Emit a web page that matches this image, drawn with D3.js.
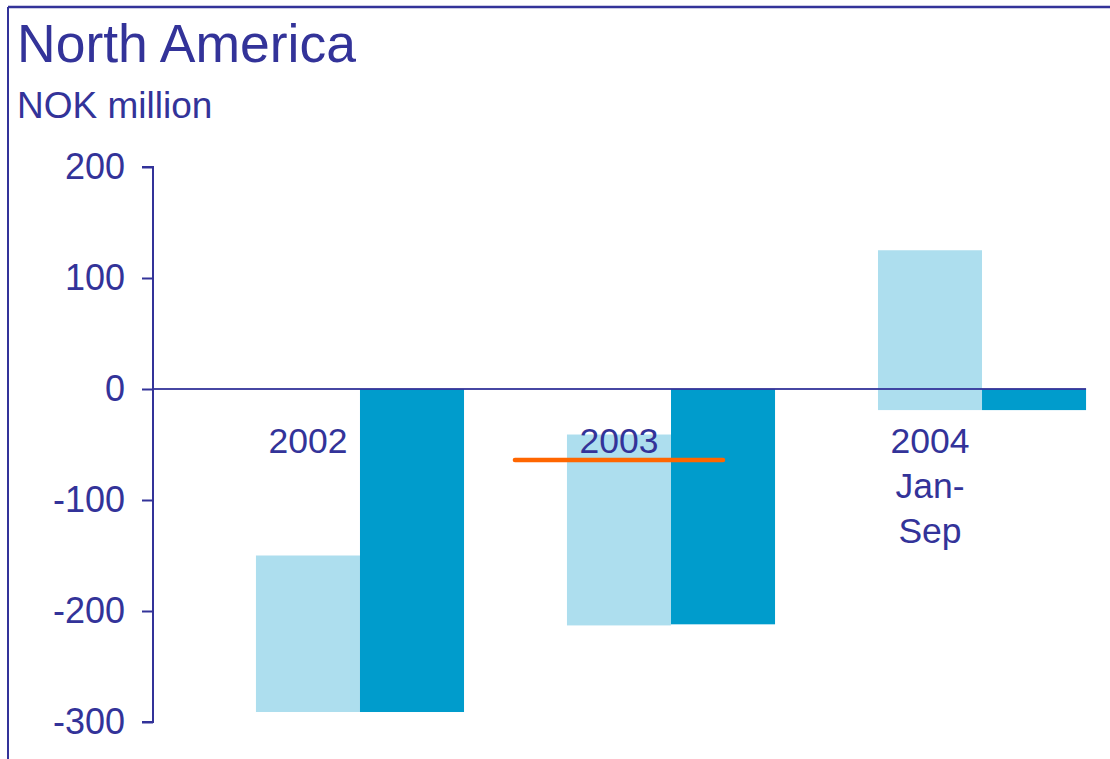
<!DOCTYPE html>
<html>
<head>
<meta charset="utf-8">
<script src="https://cdn.jsdelivr.net/npm/d3@7"></script>
<style>
  html, body { margin: 0; padding: 0; background: #fff; }
  svg { display: block; font-family: "Liberation Sans", Arial, sans-serif; }
</style>
</head>
<body>
<svg id="chart" width="1110" height="759"></svg>
<script>
// Categories and values (NOK million)
const categories = ["2002", "2003", "2004"];
const categoryLabels = [["2002"], ["2003"], ["2004", "Jan-", "Sep"]];
// Light bars float between a start and an end value
const lightStart = [-150, -41, 125];
const lightEnd = [-291, -213, -19];
// Dark bars run from zero
const darkValues = [-291, -212, -19];
// Reference level marked for 2003
const markerCategory = "2003";
const markerValue = -64;
const yTicks = [200, 100, 0, -100, -200, -300];

const ink = "#333399";
const lightColor = "#addeee";
const darkColor = "#009ccc";
const markerColor = "#ff6600";

const svg = d3.select("#chart");

// Frame lines at top and left
svg.append("line").attr("x1", 8).attr("x2", 1110).attr("y1", 7).attr("y2", 7)
  .attr("stroke", ink).attr("stroke-width", 2.5);
svg.append("line").attr("x1", 8).attr("x2", 8).attr("y1", 7).attr("y2", 759)
  .attr("stroke", ink).attr("stroke-width", 2);

// Titles
svg.append("text").attr("x", 17).attr("y", 62)
  .attr("fill", ink).attr("font-size", 53.5).text("North America");
svg.append("text").attr("x", 17).attr("y", 118)
  .attr("fill", ink).attr("font-size", 37).text("NOK million");

// Scales
const y = d3.scaleLinear().domain([-300, 200]).range([722, 167]);
const x = d3.scaleBand().domain(categories).range([153, 1189])
  .paddingInner(0.331).paddingOuter(0.331);
const half = x.bandwidth() / 2;

// Y axis (plain hyphen for negatives)
const yAxis = d3.axisLeft(y).tickValues(yTicks).tickSize(11).tickPadding(17)
  .tickFormat(d => String(d));
const gy = svg.append("g").attr("transform", "translate(153,0)").call(yAxis);
gy.select(".domain").attr("stroke", ink).attr("stroke-width", 2).attr("d", `M-11,${y(200)}H0V${y(-300)}H-11`);
gy.selectAll(".tick line").attr("stroke", ink).attr("stroke-width", 2);
gy.selectAll(".tick text").attr("fill", ink).attr("font-size", 36)
  .attr("font-family", "Liberation Sans, Arial, sans-serif");

// Light floating bars
svg.append("g").selectAll("rect").data(categories).join("rect")
  .attr("x", d => x(d))
  .attr("width", half)
  .attr("y", (d, i) => y(Math.max(lightStart[i], lightEnd[i])))
  .attr("height", (d, i) => Math.abs(y(lightStart[i]) - y(lightEnd[i])))
  .attr("fill", lightColor);

// Dark bars from zero
svg.append("g").selectAll("rect").data(categories).join("rect")
  .attr("x", d => x(d) + half)
  .attr("width", half)
  .attr("y", (d, i) => y(Math.max(0, darkValues[i])))
  .attr("height", (d, i) => Math.abs(y(darkValues[i]) - y(0)))
  .attr("fill", darkColor);

// Zero line
svg.append("line")
  .attr("x1", 153).attr("x2", x(categories[categories.length - 1]) + x.bandwidth())
  .attr("y1", y(0)).attr("y2", y(0))
  .attr("stroke", ink).attr("stroke-width", 2).attr("stroke-opacity", 0.9);

// Category labels, centred on the light bars
const labels = svg.append("g").selectAll("text").data(categories).join("text")
  .attr("x", d => x(d) + half / 2)
  .attr("y", 453)
  .attr("text-anchor", "middle")
  .attr("fill", ink).attr("font-size", 35.5);
labels.each(function(d, i) {
  const t = d3.select(this);
  categoryLabels[i].forEach((line, j) => {
    t.append("tspan").attr("x", x(d) + half / 2).attr("dy", j === 0 ? 0 : 45).text(line);
  });
});

// Reference marker line
const mc = x(markerCategory) + half / 2;
svg.append("line")
  .attr("x1", mc - half).attr("x2", mc + half)
  .attr("y1", y(markerValue)).attr("y2", y(markerValue))
  .attr("stroke", markerColor).attr("stroke-width", 4.5).attr("stroke-linecap", "round");
</script>
</body>
</html>
